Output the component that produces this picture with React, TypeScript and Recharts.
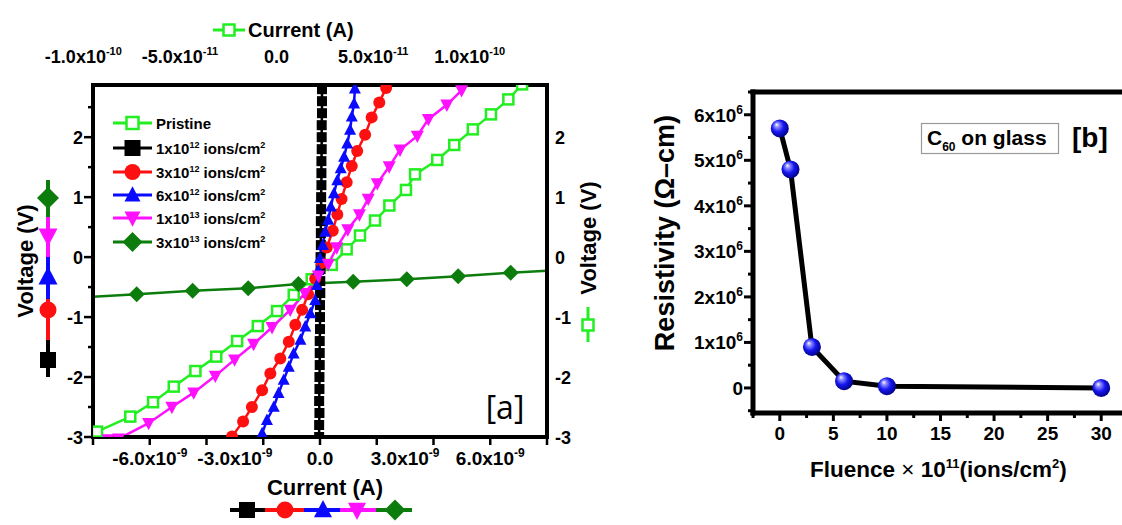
import React from "react";
import { LineChart, Line, XAxis, YAxis } from "recharts";

const SANS = "'Liberation Sans', Arial, Helvetica, sans-serif";

// ---------- panel [a]: I–V curves (voltage in V) ----------
// pristine film, current in units of 1e-11 A (top axis)
const pristineI = [-9.29, -7.57, -6.39, -5.32, -4.2, -3.12, -2.04, -0.97, 0.03, 0.89, 1.82, 2.86, 3.63, 4.32, 5.1, 5.84, 6.7, 7.17, 8.32, 9.2, 10.16, 11.1, 12.0, 12.71];
const pristineV = [-2.91, -2.66, -2.42, -2.16, -1.9, -1.66, -1.4, -1.15, -0.9, -0.63, -0.37, -0.13, 0.13, 0.36, 0.61, 0.86, 1.12, 1.38, 1.62, 1.87, 2.13, 2.38, 2.63, 2.88];

// irradiated films, current in units of 1e-9 A (bottom axis)
const f1e12I = [-0.03, -0.03, -0.02, -0.03, -0.02, -0.02, -0.01, -0.01, -0.01, 0.0, 0.0, 0.0, 0.01, 0.01, 0.02, 0.02, 0.03, 0.03, 0.03, 0.04, 0.04, 0.05, 0.05, 0.05, 0.06, 0.06, 0.06, 0.07, 0.07, 0.07];
const f1e12V = [-3.0, -2.8, -2.6, -2.4, -2.2, -2.0, -1.8, -1.6, -1.4, -1.2, -1.0, -0.8, -0.6, -0.4, -0.2, 0.0, 0.2, 0.4, 0.6, 0.8, 1.0, 1.2, 1.4, 1.6, 1.8, 2.0, 2.2, 2.4, 2.6, 2.8];

const f3e12I = [-3.1, -2.71, -2.4, -2.04, -1.75, -1.4, -1.1, -0.87, -0.63, -0.42, -0.17, 0.05, 0.24, 0.45, 0.61, 0.76, 0.94, 1.12, 1.31, 1.59, 1.82, 2.09, 2.33];
const f3e12V = [-2.99, -2.74, -2.5, -2.22, -1.94, -1.69, -1.41, -1.13, -0.88, -0.62, -0.36, -0.1, 0.16, 0.44, 0.71, 0.97, 1.25, 1.52, 1.77, 2.04, 2.33, 2.58, 2.82];

const f6e12I = [-2.04, -1.87, -1.63, -1.46, -1.28, -1.1, -0.93, -0.69, -0.52, -0.34, -0.17, -0.11, -0.06, 0.0, 0.1, 0.18, 0.29, 0.38, 0.49, 0.61, 0.73, 0.85, 0.96, 1.06, 1.12, 1.2, 1.23];
const f6e12V = [-2.94, -2.72, -2.5, -2.27, -2.05, -1.83, -1.61, -1.38, -1.16, -0.94, -0.72, -0.47, -0.22, -0.02, 0.2, 0.42, 0.62, 0.84, 1.06, 1.28, 1.48, 1.67, 1.89, 2.12, 2.34, 2.56, 2.81];

const f1e13I = [-7.47, -7.1, -6.04, -5.22, -4.45, -3.69, -3.01, -2.34, -1.69, -1.05, -0.53, -0.06, 0.29, 0.59, 0.98, 1.39, 1.7, 2.02, 2.44, 2.82, 3.43, 3.82, 4.47, 4.99];
const f1e13V = [-3.04, -3.03, -2.77, -2.5, -2.26, -1.98, -1.71, -1.45, -1.17, -0.88, -0.6, -0.31, -0.12, 0.16, 0.46, 0.71, 0.97, 1.23, 1.51, 1.79, 2.02, 2.3, 2.54, 2.78];

const f3e13I = [-8.33, -6.46, -4.49, -2.53, -0.76, 1.17, 3.06, 4.87, 6.72, 8.6];
const f3e13V = [-0.67, -0.62, -0.56, -0.52, -0.45, -0.41, -0.37, -0.32, -0.26, -0.21];

// axis ticks, panel [a]
const voltageTicks = [-3, -2.5, -2, -1.5, -1, -0.5, 0, 0.5, 1, 1.5, 2, 2.5];
const currentTicks = [-8e-9, -6e-9, -4e-9, -3e-9, -2e-9, 0, 2e-9, 3e-9, 4e-9, 6e-9, 8e-9];
const currentLabels = [-6e-9, -3e-9, 0, 3e-9, 6e-9];
const pristineTicks = [-1e-10, -5e-11, 0, 5e-11, 1e-10];

// legend text, panel [a]
const legendNames = ["Pristine", "1x10", "3x10", "6x10", "1x10", "3x10"];
const legendExps = ["", "12", "12", "12", "13", "13"];

// ---------- panel [b]: resistivity vs fluence ----------
const fluence = [0, 1, 3, 6, 10, 30]; // x 1e11 ions/cm^2
const resistivity = [5.7e6, 4.8e6, 0.9e6, 0.15e6, 0.04e6, 0.0]; // ohm-cm
const fluenceTicks = [-2.5, 0, 2.5, 5, 7.5, 10, 12.5, 15, 17.5, 20, 22.5, 25, 27.5, 30, 32.5];
const resistivityTicks = [-5e5, 0, 5e5, 1e6, 1.5e6, 2e6, 2.5e6, 3e6, 3.5e6, 4e6, 4.5e6, 5e6, 5.5e6, 6e6, 6.5e6];

type Shape = "openSquare" | "square" | "circle" | "triangle" | "triangleDown" | "diamond";

const GREEN = "#22ee22";
const DKGREEN = "#0c7d0c";

const toPts = (xs: number[], ys: number[], scale: number) => xs.map((x, k) => ({ i: x * scale, v: ys[k] }));

const series = [
  { id: "p", data: toPts(pristineI, pristineV, 1e-11), color: GREEN, shape: "openSquare" as Shape, size: 10, top: true },
  { id: "a", data: toPts(f1e12I, f1e12V, 1e-9), color: "#000000", shape: "square" as Shape, size: 10, top: false },
  { id: "b", data: toPts(f3e12I, f3e12V, 1e-9), color: "#ff1010", shape: "circle" as Shape, size: 12, top: false },
  { id: "c", data: toPts(f6e12I, f6e12V, 1e-9), color: "#0a0aff", shape: "triangle" as Shape, size: 12, top: false },
  { id: "d", data: toPts(f1e13I, f1e13V, 1e-9), color: "#ff10ff", shape: "triangleDown" as Shape, size: 13, top: false },
  { id: "e", data: toPts(f3e13I, f3e13V, 1e-9), color: DKGREEN, shape: "diamond" as Shape, size: 16, top: false },
];

const bData = fluence.map((f, k) => ({ f, r: resistivity[k] }));

function Marker({ shape, x, y, s, color }: { shape: Shape; x: number; y: number; s: number; color: string }) {
  const h = s / 2;
  switch (shape) {
    case "openSquare":
      return <rect x={x - h} y={y - h} width={s} height={s} fill="#fff" stroke={color} strokeWidth={2.5} />;
    case "square":
      return <rect x={x - h} y={y - h} width={s} height={s} fill={color} />;
    case "circle":
      return <circle cx={x} cy={y} r={h} fill={color} />;
    case "triangle":
      return <polygon points={`${x},${y - h * 1.1} ${x - h},${y + h * 0.8} ${x + h},${y + h * 0.8}`} fill={color} />;
    case "triangleDown":
      return <polygon points={`${x},${y + h * 1.1} ${x - h},${y - h * 0.8} ${x + h},${y - h * 0.8}`} fill={color} />;
    default:
      return <polygon points={`${x},${y - h} ${x + h},${y} ${x},${y + h} ${x - h},${y}`} fill={color} />;
  }
}

function sci(v: number) {
  if (v === 0) return { m: "0.0", e: "" };
  const e = Math.floor(Math.log10(Math.abs(v)) + 1e-9);
  return { m: (v / Math.pow(10, e)).toFixed(1), e: String(e) };
}

function LeftTickA({ x, y, payload }: any) {
  const v: number = payload.value;
  const major = Number.isInteger(v);
  return (
    <g>
      <line x1={x} x2={x - (major ? 9 : 5)} y1={y} y2={y} stroke="#000" strokeWidth={2.5} />
      {major && (
        <text x={x - 10} y={y + 6.5} textAnchor="end" fontFamily={SANS} fontWeight="bold" fontSize={18} fill="#000">
          {v}
        </text>
      )}
    </g>
  );
}

function RightTickA({ x, y, payload }: any) {
  const v: number = payload.value;
  if (!Number.isInteger(v)) return <g />;
  return (
    <text x={x + 8} y={y + 6.5} textAnchor="start" fontFamily={SANS} fontWeight="bold" fontSize={18} fill="#000">
      {v}
    </text>
  );
}

function BottomTickA({ x, y, payload }: any) {
  const n = Math.round(payload.value * 1e9);
  const lbl = currentLabels.some((c) => Math.round(c * 1e9) === n);
  const { m, e } = sci(payload.value);
  return (
    <g>
      {n % 2 === 0 && <line x1={x} x2={x} y1={y} y2={y + 8} stroke="#000" strokeWidth={2.5} />}
      {lbl && (
        <text x={x} y={y + 28} textAnchor="middle" fontFamily={SANS} fontWeight="bold" fontSize={19} fill="#000">
          {m}
          {e && (
            <>
              x10
              <tspan dy={-8} fontSize={12}>
                {e}
              </tspan>
            </>
          )}
        </text>
      )}
    </g>
  );
}

function TopTickA({ x, y, payload }: any) {
  const { m, e } = sci(payload.value);
  return (
    <text x={x} y={y - 22} textAnchor="middle" fontFamily={SANS} fontWeight="bold" fontSize={18} fill="#000">
      {m}
      {e && (
        <>
          x10
          <tspan dy={-8} fontSize={11}>
            {e}
          </tspan>
        </>
      )}
    </text>
  );
}

function LeftTickB({ x, y, payload }: any) {
  const n = Math.round(payload.value / 5e5);
  const major = n % 2 === 0;
  return (
    <g>
      <line x1={x} x2={x - (major ? 9 : 5)} y1={y} y2={y} stroke="#000" strokeWidth={3} />
      {major && n >= 0 && (
        <text x={x - 10} y={y + 7} textAnchor="end" fontFamily={SANS} fontWeight="bold" fontSize={19} fill="#000">
          {n === 0 ? (
            "0"
          ) : (
            <>
              {n / 2}x10
              <tspan dy={-8} fontSize={12}>
                6
              </tspan>
            </>
          )}
        </text>
      )}
    </g>
  );
}

function BottomTickB({ x, y, payload }: any) {
  const v: number = payload.value;
  const major = Number.isInteger(v / 5);
  return (
    <g>
      <line x1={x} x2={x} y1={y} y2={y + (major ? 8 : 5)} stroke="#000" strokeWidth={3} />
      {major && v >= 0 && (
        <text x={x} y={y + 27} textAnchor="middle" fontFamily={SANS} fontWeight="bold" fontSize={19} fill="#000">
          {v}
        </text>
      )}
    </g>
  );
}

function PanelA() {
  const frame = { stroke: "#000", strokeWidth: 4, strokeLinecap: "square" as const };
  return (
    <LineChart width={620} height={525} margin={{ top: 0, right: 0, bottom: 0, left: 0 }}>
      <XAxis xAxisId="bottom" orientation="bottom" type="number" dataKey="i" domain={[-8e-9, 8e-9]} ticks={currentTicks} interval={0} height={88} tickSize={0} tickMargin={0} tickLine={false} axisLine={frame} tick={(p: any) => <BottomTickA {...p} />} allowDataOverflow />
      <XAxis xAxisId="top" orientation="top" type="number" dataKey="i" domain={[-9.5e-11, 1.4e-10]} ticks={pristineTicks} interval={0} height={85} tickSize={0} tickMargin={0} tickLine={false} axisLine={frame} tick={(p: any) => <TopTickA {...p} />} allowDataOverflow />
      <YAxis yAxisId="left" orientation="left" type="number" domain={[-3, 2.87]} ticks={voltageTicks} interval={0} width={93} tickSize={0} tickMargin={0} tickLine={false} axisLine={frame} tick={(p: any) => <LeftTickA {...p} />} allowDataOverflow />
      <YAxis yAxisId="right" orientation="right" type="number" domain={[-3, 2.87]} ticks={voltageTicks} interval={0} width={73} tickSize={0} tickMargin={0} tickLine={false} axisLine={frame} tick={(p: any) => <RightTickA {...p} />} allowDataOverflow />
      {series.map((s) => (
        <Line
          key={s.id}
          data={s.data}
          dataKey="v"
          xAxisId={s.top ? "top" : "bottom"}
          yAxisId={s.top ? "right" : "left"}
          type="linear"
          stroke={s.color}
          strokeWidth={2.5}
          isAnimationActive={false}
          activeDot={false}
          dot={(p: any) => (
            <g key={`${s.id}-${p.index}`}>
              <Marker shape={s.shape} x={p.cx} y={p.cy} s={s.size} color={s.color} />
            </g>
          )}
        />
      ))}
    </LineChart>
  );
}

function PanelB() {
  const frame = { stroke: "#000", strokeWidth: 5, strokeLinecap: "square" as const };
  return (
    <LineChart width={512} height={525} margin={{ top: 0, right: 4, bottom: 0, left: 0 }}>
      <defs>
        <radialGradient id="ball" cx="45%" cy="45%" r="60%" fx="32%" fy="28%">
          <stop offset="0%" stopColor="#ffffff" />
          <stop offset="20%" stopColor="#8f8fff" />
          <stop offset="55%" stopColor="#1616f0" />
          <stop offset="100%" stopColor="#00007a" />
        </radialGradient>
      </defs>
      <XAxis xAxisId="b" orientation="bottom" type="number" dataKey="f" domain={[-2.5, 32.5]} ticks={fluenceTicks} interval={0} height={112} tickSize={0} tickMargin={0} tickLine={false} axisLine={frame} tick={(p: any) => <BottomTickB {...p} />} allowDataOverflow />
      <XAxis xAxisId="t" orientation="top" type="number" dataKey="f" domain={[-2.5, 32.5]} height={92} tick={false} tickLine={false} axisLine={frame} allowDataOverflow />
      <YAxis yAxisId="l" orientation="left" type="number" domain={[-0.55e6, 6.5e6]} ticks={resistivityTicks} interval={0} width={133} tickSize={0} tickMargin={0} tickLine={false} axisLine={frame} tick={(p: any) => <LeftTickB {...p} />} allowDataOverflow />
      <Line
        data={bData}
        dataKey="r"
        xAxisId="b"
        yAxisId="l"
        type="linear"
        stroke="#000"
        strokeWidth={5}
        isAnimationActive={false}
        activeDot={false}
        dot={(p: any) => <circle key={`b-${p.index}`} cx={p.cx} cy={p.cy} r={9} fill="url(#ball)" />}
      />
    </LineChart>
  );
}

function Overlay() {
  const t = { fontFamily: SANS, fontWeight: "bold" as const, fill: "#000" };
  const rows = [123, 148, 172, 195, 218, 242];
  const colSeg = [
    { y1: 180, y2: 217, c: DKGREEN },
    { y1: 217, y2: 257, c: "#ff10ff" },
    { y1: 257, y2: 299, c: "#0a0aff" },
    { y1: 299, y2: 340, c: "#ff1010" },
    { y1: 340, y2: 377, c: "#000" },
  ];
  const rowSeg = [
    { x1: 230, x2: 265, c: "#000" },
    { x1: 265, x2: 304, c: "#ff1010" },
    { x1: 304, x2: 340, c: "#0a0aff" },
    { x1: 340, x2: 376, c: "#ff10ff" },
    { x1: 376, x2: 412, c: DKGREEN },
  ];
  return (
    <svg width={1122} height={525} style={{ position: "absolute", left: 0, top: 0, pointerEvents: "none" }}>
      {/* top axis title */}
      <line x1={213} x2={245} y1={30} y2={30} stroke={GREEN} strokeWidth={3} />
      <Marker shape="openSquare" x={229} y={30} s={11} color={GREEN} />
      <text x={248} y={37} fontSize={20} {...t}>Current (A)</text>

      {/* bottom axis title with symbols */}
      <text x={325} y={495} fontSize={22} textAnchor="middle" {...t}>Current (A)</text>
      {rowSeg.map((s, k) => (
        <line key={k} x1={s.x1} x2={s.x2} y1={510} y2={510} stroke={s.c} strokeWidth={4} />
      ))}
      <Marker shape="square" x={247} y={510} s={16} color="#000" />
      <Marker shape="circle" x={285} y={510} s={17} color="#ff1010" />
      <Marker shape="triangle" x={323} y={510} s={18} color="#0a0aff" />
      <Marker shape="triangleDown" x={357} y={510} s={18} color="#ff10ff" />
      <Marker shape="diamond" x={395} y={510} s={21} color={DKGREEN} />

      {/* left axis title with symbols */}
      <text transform="translate(33,261) rotate(-90)" fontSize={22} textAnchor="middle" {...t}>Voltage (V)</text>
      {colSeg.map((s, k) => (
        <line key={k} x1={48} x2={48} y1={s.y1} y2={s.y2} stroke={s.c} strokeWidth={4} />
      ))}
      <Marker shape="diamond" x={48} y={198} s={22} color={DKGREEN} />
      <Marker shape="triangleDown" x={48} y={236} s={19} color="#ff10ff" />
      <Marker shape="triangle" x={48} y={277} s={19} color="#0a0aff" />
      <Marker shape="circle" x={48} y={310} s={17} color="#ff1010" />
      <Marker shape="square" x={48} y={360} s={16} color="#000" />

      {/* right axis title */}
      <text transform="translate(596,238) rotate(-90)" fontSize={22} textAnchor="middle" {...t}>Voltage (V)</text>
      <line x1={588} x2={588} y1={307} y2={342} stroke={GREEN} strokeWidth={3} />
      <Marker shape="openSquare" x={588} y={325} s={11} color={GREEN} />

      {/* legend inside panel [a] */}
      {series.map((s, k) => (
        <g key={s.id}>
          <line x1={113} x2={152} y1={rows[k]} y2={rows[k]} stroke={s.color} strokeWidth={3} />
          <Marker shape={s.shape} x={132.5} y={rows[k]} s={k === 0 ? 12 : s.shape === "diamond" ? 20 : 16} color={s.color} />
          <text x={156} y={rows[k] + 5.5} fontSize={15} {...t}>
            {legendNames[k]}
            {legendExps[k] && (
              <>
                <tspan dy={-6} fontSize={9}>{legendExps[k]}</tspan>
                <tspan dy={6}> ions/cm</tspan>
                <tspan dy={-6} fontSize={9}>2</tspan>
              </>
            )}
          </text>
        </g>
      ))}
      <text x={505} y={419} fontSize={32} textAnchor="middle" fontFamily="'Open Sans', Lato, sans-serif" fill="#000">[a]</text>

      {/* panel [b] titles */}
      <text transform="translate(674,233) rotate(-90)" fontSize={27} textAnchor="middle" {...t}>Resistivity (Ω–cm)</text>
      <text x={810} y={477} fontSize={22.5} {...t}>
        Fluence <tspan fontWeight="normal">×</tspan> 10
        <tspan dy={-9} fontSize={13}>11</tspan>
        <tspan dy={9}>(ions/cm</tspan>
        <tspan dy={-9} fontSize={13}>2</tspan>
        <tspan dy={9}>)</tspan>
      </text>
      <rect x={921.5} y={123.5} width={137} height={30} fill="#fff" stroke="#999" strokeWidth={1.2} />
      <text x={927} y={145} fontSize={21} {...t}>
        C<tspan dy={6} fontSize={12}>60</tspan>
        <tspan dy={-6}> on glass</tspan>
      </text>
      <text x={1072} y={147} fontSize={28} {...t}>[b]</text>
    </svg>
  );
}

export default function App() {
  return (
    <div style={{ position: "relative", width: 1122, height: 525, overflow: "hidden", background: "#fff" }}>
      <style>{"body{margin:0}"}</style>
      <div style={{ position: "absolute", left: 0, top: 0 }}>
        <PanelA />
      </div>
      <div style={{ position: "absolute", left: 620, top: 0 }}>
        <PanelB />
      </div>
      <Overlay />
    </div>
  );
}
